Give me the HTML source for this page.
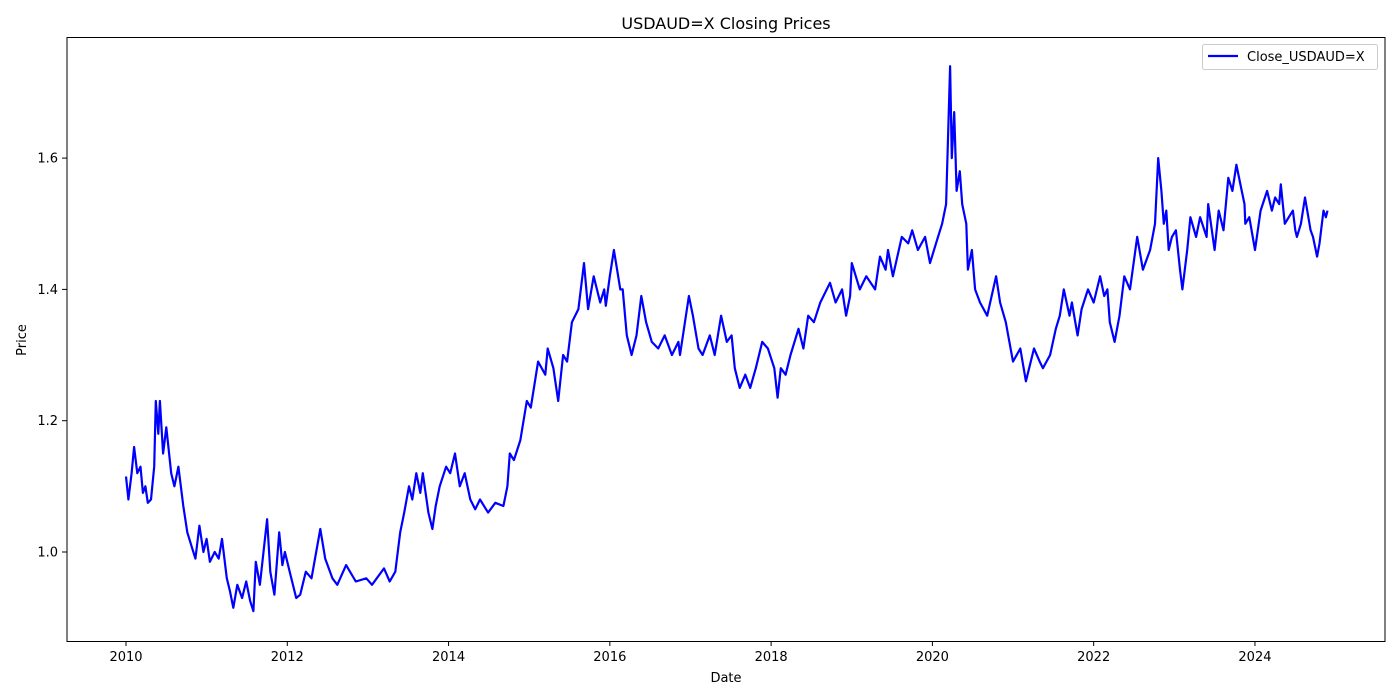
<!DOCTYPE html>
<html><head><meta charset="utf-8"><style>
body{margin:0;background:#fff;}
svg{display:block;font-family:"DejaVu Sans","Liberation Sans",sans-serif;}
</style></head><body>
<svg id="chart" width="1400" height="700" viewBox="0 0 1400 700">
<rect width="1400" height="700" fill="#fff"/>
<text x="726" y="29" font-size="16" text-anchor="middle">USDAUD=X Closing Prices</text>
<g id="xticks"></g>
<g id="yticks"></g>
<path id="series" fill="none" stroke="#0000ff" stroke-width="2.2" stroke-linejoin="round"/>
<rect x="67" y="37.5" width="1318" height="604" fill="none" stroke="#000" stroke-width="1"/>
<text x="726" y="682" font-size="13" text-anchor="middle">Date</text>
<text x="26" y="340" font-size="13" text-anchor="middle" transform="rotate(-90 26 340)">Price</text>
<g>
<rect x="1202.5" y="44.5" width="175" height="25" rx="2" fill="#fff" stroke="#ccc"/>
<line x1="1208" y1="56" x2="1238" y2="56" stroke="#0000ff" stroke-width="2.2"/>
<text x="1247" y="61" font-size="13">Close_USDAUD=X</text>
</g>
</svg>
<script>
const dates=[2010.00,2010.03,2010.07,2010.10,2010.14,2010.18,2010.21,2010.24,2010.27,2010.31,2010.35,2010.37,2010.40,2010.42,2010.46,2010.50,2010.56,2010.60,2010.65,2010.71,2010.76,2010.81,2010.86,2010.91,2010.96,2011.00,2011.04,2011.10,2011.15,2011.19,2011.25,2011.29,2011.33,2011.38,2011.44,2011.49,2011.54,2011.58,2011.61,2011.66,2011.75,2011.79,2011.84,2011.90,2011.94,2011.97,2012.03,2012.11,2012.16,2012.23,2012.30,2012.41,2012.47,2012.56,2012.62,2012.73,2012.85,2012.98,2013.05,2013.20,2013.27,2013.34,2013.40,2013.45,2013.51,2013.55,2013.60,2013.65,2013.68,2013.75,2013.80,2013.84,2013.89,2013.97,2014.02,2014.08,2014.14,2014.20,2014.27,2014.33,2014.39,2014.49,2014.58,2014.68,2014.73,2014.76,2014.81,2014.89,2014.97,2015.02,2015.11,2015.20,2015.23,2015.30,2015.36,2015.42,2015.47,2015.53,2015.61,2015.68,2015.73,2015.80,2015.88,2015.93,2015.95,2016.00,2016.05,2016.13,2016.16,2016.21,2016.27,2016.33,2016.39,2016.45,2016.52,2016.60,2016.68,2016.77,2016.85,2016.87,2016.98,2017.03,2017.10,2017.15,2017.24,2017.30,2017.38,2017.45,2017.51,2017.55,2017.61,2017.68,2017.74,2017.81,2017.89,2017.96,2018.04,2018.08,2018.12,2018.18,2018.24,2018.34,2018.40,2018.46,2018.53,2018.61,2018.73,2018.80,2018.88,2018.93,2018.98,2019.00,2019.10,2019.18,2019.29,2019.35,2019.42,2019.45,2019.51,2019.62,2019.70,2019.75,2019.82,2019.91,2019.97,2020.07,2020.12,2020.17,2020.22,2020.24,2020.27,2020.30,2020.34,2020.37,2020.42,2020.44,2020.49,2020.53,2020.59,2020.68,2020.79,2020.84,2020.91,2020.94,2021.00,2021.09,2021.16,2021.26,2021.33,2021.37,2021.46,2021.53,2021.58,2021.63,2021.70,2021.73,2021.80,2021.85,2021.93,2022.00,2022.08,2022.13,2022.17,2022.20,2022.26,2022.32,2022.38,2022.45,2022.54,2022.61,2022.70,2022.76,2022.80,2022.84,2022.87,2022.90,2022.93,2022.97,2023.02,2023.07,2023.10,2023.16,2023.20,2023.27,2023.32,2023.40,2023.42,2023.50,2023.55,2023.61,2023.67,2023.72,2023.77,2023.82,2023.87,2023.88,2023.93,2024.00,2024.07,2024.15,2024.21,2024.25,2024.30,2024.32,2024.37,2024.42,2024.47,2024.50,2024.52,2024.57,2024.62,2024.69,2024.72,2024.77,2024.80,2024.82,2024.85,2024.88,2024.90];
const closes=[1.115,1.08,1.12,1.16,1.12,1.13,1.09,1.10,1.075,1.08,1.13,1.23,1.18,1.23,1.15,1.19,1.12,1.10,1.13,1.07,1.03,1.01,0.99,1.04,1.00,1.02,0.985,1.00,0.99,1.02,0.96,0.94,0.915,0.95,0.93,0.955,0.925,0.91,0.985,0.95,1.05,0.97,0.935,1.03,0.98,1.00,0.97,0.93,0.935,0.97,0.96,1.035,0.99,0.96,0.95,0.98,0.955,0.96,0.95,0.975,0.955,0.97,1.03,1.06,1.10,1.08,1.12,1.09,1.12,1.06,1.035,1.07,1.10,1.13,1.12,1.15,1.10,1.12,1.08,1.065,1.08,1.06,1.075,1.07,1.10,1.15,1.14,1.17,1.23,1.22,1.29,1.27,1.31,1.28,1.23,1.30,1.29,1.35,1.37,1.44,1.37,1.42,1.38,1.40,1.375,1.42,1.46,1.40,1.40,1.33,1.30,1.33,1.39,1.35,1.32,1.31,1.33,1.30,1.32,1.30,1.39,1.36,1.31,1.30,1.33,1.30,1.36,1.32,1.33,1.28,1.25,1.27,1.25,1.28,1.32,1.31,1.28,1.235,1.28,1.27,1.30,1.34,1.31,1.36,1.35,1.38,1.41,1.38,1.40,1.36,1.39,1.44,1.40,1.42,1.40,1.45,1.43,1.46,1.42,1.48,1.47,1.49,1.46,1.48,1.44,1.48,1.50,1.53,1.74,1.60,1.67,1.55,1.58,1.53,1.50,1.43,1.46,1.40,1.38,1.36,1.42,1.38,1.35,1.33,1.29,1.31,1.26,1.31,1.29,1.28,1.30,1.34,1.36,1.40,1.36,1.38,1.33,1.37,1.40,1.38,1.42,1.39,1.40,1.35,1.32,1.36,1.42,1.40,1.48,1.43,1.46,1.50,1.60,1.55,1.50,1.52,1.46,1.48,1.49,1.43,1.40,1.46,1.51,1.48,1.51,1.48,1.53,1.46,1.52,1.49,1.57,1.55,1.59,1.56,1.53,1.50,1.51,1.46,1.52,1.55,1.52,1.54,1.53,1.56,1.50,1.51,1.52,1.49,1.48,1.50,1.54,1.49,1.48,1.45,1.47,1.49,1.52,1.51,1.52];
const xTickLabels=["2010","2012","2014","2016","2018","2020","2022","2024"];
const yTickLabels=["1.0","1.2","1.4","1.6"];

const NS="http://www.w3.org/2000/svg";
function xScale(yr){return 126+(yr-2010)*80.64;}
function yScale(v){return 552-(v-1)*656.5;}

const xg=document.getElementById('xticks');
xTickLabels.forEach(l=>{
  const x=xScale(parseFloat(l));
  const t=document.createElementNS(NS,'line');
  t.setAttribute('x1',x);t.setAttribute('x2',x);t.setAttribute('y1',641.5);t.setAttribute('y2',646);t.setAttribute('stroke','#000');
  
  
  xg.appendChild(t);
  const s=document.createElementNS(NS,'text');
  s.setAttribute('x',x);s.setAttribute('y',661);s.setAttribute('font-size','13');s.setAttribute('text-anchor','middle');
  s.textContent=l;
  
  
  xg.appendChild(s);
});
const yg=document.getElementById('yticks');
yTickLabels.forEach(l=>{
  const y=yScale(parseFloat(l));
  const t=document.createElementNS(NS,'line');
  t.setAttribute('x1',62);t.setAttribute('x2',67);t.setAttribute('y1',y);t.setAttribute('y2',y);t.setAttribute('stroke','#000');
  
  
  yg.appendChild(t);
  const s=document.createElementNS(NS,'text');
  s.setAttribute('x',58);s.setAttribute('y',y+4.5);s.setAttribute('font-size','13');s.setAttribute('text-anchor','end');
  s.textContent=l;
  
  
  yg.appendChild(s);
});
let d='';
dates.forEach((yr,i)=>{d+=(i?'L':'M')+xScale(yr).toFixed(1)+' '+yScale(closes[i]).toFixed(1);});
document.getElementById('series').setAttribute('d',d);
</script>
</body></html>
